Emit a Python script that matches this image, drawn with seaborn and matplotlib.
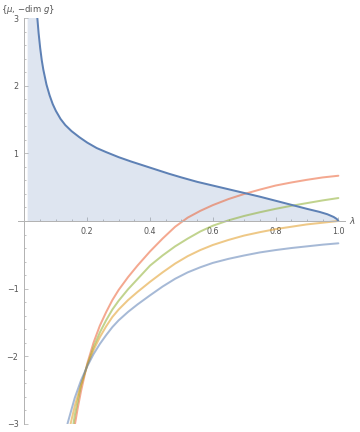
import matplotlib

matplotlib.use("Agg")
import matplotlib.pyplot as plt
import numpy as np
import pandas as pd
import seaborn as sns
from matplotlib.ticker import FixedLocator

# mu(lambda) - filled curve
mu_lam = [0.01, 0.041, 0.045, 0.05, 0.055, 0.06, 0.07, 0.08, 0.09, 0.10,
          0.115, 0.13, 0.15, 0.175, 0.20, 0.23, 0.26, 0.30, 0.34, 0.38,
          0.42, 0.46, 0.50, 0.55, 0.60, 0.65, 0.70, 0.75, 0.80, 0.85,
          0.90, 0.94, 0.965, 0.985, 0.995, 1.0]
mu_val = [7.0, 3.0, 2.78, 2.56, 2.38, 2.24, 2.02, 1.86, 1.73, 1.63,
          1.51, 1.42, 1.33, 1.24, 1.16, 1.08, 1.02, 0.945, 0.88, 0.82,
          0.76, 0.70, 0.645, 0.58, 0.525, 0.47, 0.415, 0.36, 0.30, 0.24,
          0.18, 0.135, 0.10, 0.06, 0.03, 0.0]

# -dim g curves
orange_lam = [0.161, 0.17, 0.18, 0.20, 0.22, 0.24, 0.26, 0.28, 0.30, 0.33,
              0.36, 0.40, 0.44, 0.48, 0.52, 0.56, 0.60, 0.65, 0.70, 0.75,
              0.80, 0.85, 0.90, 0.95, 1.0]
orange_val = [-3.0, -2.76, -2.52, -2.11, -1.80, -1.55, -1.35, -1.17, -1.02, -0.83,
              -0.66, -0.45, -0.26, -0.085, 0.05, 0.15, 0.235, 0.325, 0.40, 0.465,
              0.525, 0.57, 0.61, 0.645, 0.67]

green_lam = [0.156, 0.16, 0.18, 0.20, 0.22, 0.24, 0.26, 0.28, 0.30, 0.33,
             0.36, 0.40, 0.44, 0.48, 0.52, 0.56, 0.60, 0.65, 0.70, 0.75,
             0.80, 0.85, 0.90, 0.95, 1.0]
green_val = [-3.0, -2.88, -2.43, -2.13, -1.87, -1.65, -1.47, -1.31, -1.18, -1.01,
             -0.86, -0.66, -0.51, -0.375, -0.26, -0.155, -0.07, 0.01, 0.075, 0.13,
             0.18, 0.225, 0.265, 0.305, 0.34]

yellow_lam = [0.147, 0.16, 0.18, 0.20, 0.22, 0.24, 0.26, 0.28, 0.30, 0.33,
              0.36, 0.40, 0.44, 0.48, 0.52, 0.56, 0.60, 0.65, 0.70, 0.75,
              0.80, 0.85, 0.90, 0.95, 1.0]
yellow_val = [-3.0, -2.74, -2.42, -2.14, -1.91, -1.72, -1.56, -1.42, -1.31, -1.17,
              -1.05, -0.90, -0.76, -0.63, -0.52, -0.43, -0.355, -0.28, -0.215, -0.165,
              -0.12, -0.085, -0.05, -0.025, 0.0]

lblue_lam = [0.137, 0.16, 0.18, 0.20, 0.22, 0.24, 0.26, 0.28, 0.30, 0.33,
             0.36, 0.40, 0.44, 0.48, 0.52, 0.56, 0.60, 0.65, 0.70, 0.75,
             0.80, 0.85, 0.90, 0.95, 1.0]
lblue_val = [-3.0, -2.62, -2.36, -2.15, -1.97, -1.82, -1.69, -1.57, -1.47, -1.345,
             -1.235, -1.10, -0.97, -0.855, -0.76, -0.685, -0.62, -0.56, -0.51, -0.465,
             -0.43, -0.40, -0.375, -0.35, -0.33]

x_major = [0.2, 0.4, 0.6, 0.8, 1.0]
x_labels = ["0.2", "0.4", "0.6", "0.8", "1.0"]
y_major = [-3, -2, -1, 1, 2, 3]
y_labels = ["\u22123", "\u22122", "\u22121", "1", "2", "3"]

sns.set_style("white")
plt.rcParams["font.family"] = ["DejaVu Sans"]

fig = plt.figure(figsize=(5, 6), dpi=72)
ax = fig.add_axes([0.0506, 0.0192, 0.9067, 0.9384])

axis_gray = "#b3b3b3"
text_gray = "#555555"
main_blue = "#5E81B5"

ax.fill_between(mu_lam, 0, mu_val, color=main_blue, alpha=0.2, linewidth=0)

curves = [
    (orange_lam, orange_val, "#EB6235"),
    (green_lam, green_val, "#8FB032"),
    (yellow_lam, yellow_val, "#E19C24"),
    (lblue_lam, lblue_val, main_blue),
]
for lam, val, col in curves:
    df = pd.DataFrame({"lam": lam, "val": val})
    sns.lineplot(data=df, x="lam", y="val", ax=ax, color=col, alpha=0.55,
                 linewidth=2, sort=False)

df_mu = pd.DataFrame({"lam": mu_lam, "val": mu_val})
sns.lineplot(data=df_mu, x="lam", y="val", ax=ax, color=main_blue,
             linewidth=2, sort=False)

ax.set_xlim(-0.02, 1.02)
ax.set_ylim(-3, 3)
ax.set_xlabel("")
ax.set_ylabel("")

# Mathematica-like axes crossing at origin
for s in ["top", "right"]:
    ax.spines[s].set_visible(False)
ax.spines["left"].set_position(("data", 0))
ax.spines["bottom"].set_position(("data", 0))
for s in ["left", "bottom"]:
    ax.spines[s].set_color(axis_gray)
    ax.spines[s].set_linewidth(1)

ax.xaxis.set_major_locator(FixedLocator(x_major))
ax.set_xticklabels(x_labels)
ax.xaxis.set_minor_locator(FixedLocator(
    [v for v in np.arange(0.05, 1.001, 0.05) if min(abs(v - m) for m in x_major) > 1e-6]))
ax.yaxis.set_major_locator(FixedLocator(y_major))
ax.set_yticklabels(y_labels)
ax.yaxis.set_minor_locator(FixedLocator(
    [v for v in np.arange(-2.8, 2.81, 0.2) if abs(v - round(v)) > 1e-6]))

ax.tick_params(which="both", direction="in", color=axis_gray, width=0.8,
               labelcolor=text_gray, labelsize=8)
ax.tick_params(which="major", length=4, pad=6)
ax.tick_params(which="minor", length=2)
ax.tick_params(axis="x", which="both", bottom=True, top=False)
ax.tick_params(axis="y", which="both", left=True, right=False)

ax.text(1.035, 0, "\u03bb", fontsize=9, color=text_gray, style="italic",
        ha="left", va="center", clip_on=False)
fig.text(0.002, 1 - 9 / 432, "{$\\mu$, \u2212dim $g$}", fontsize=8.5,
         color=text_gray, ha="left", va="center")

fig.savefig("out.png", dpi=72)
plt.close(fig)
